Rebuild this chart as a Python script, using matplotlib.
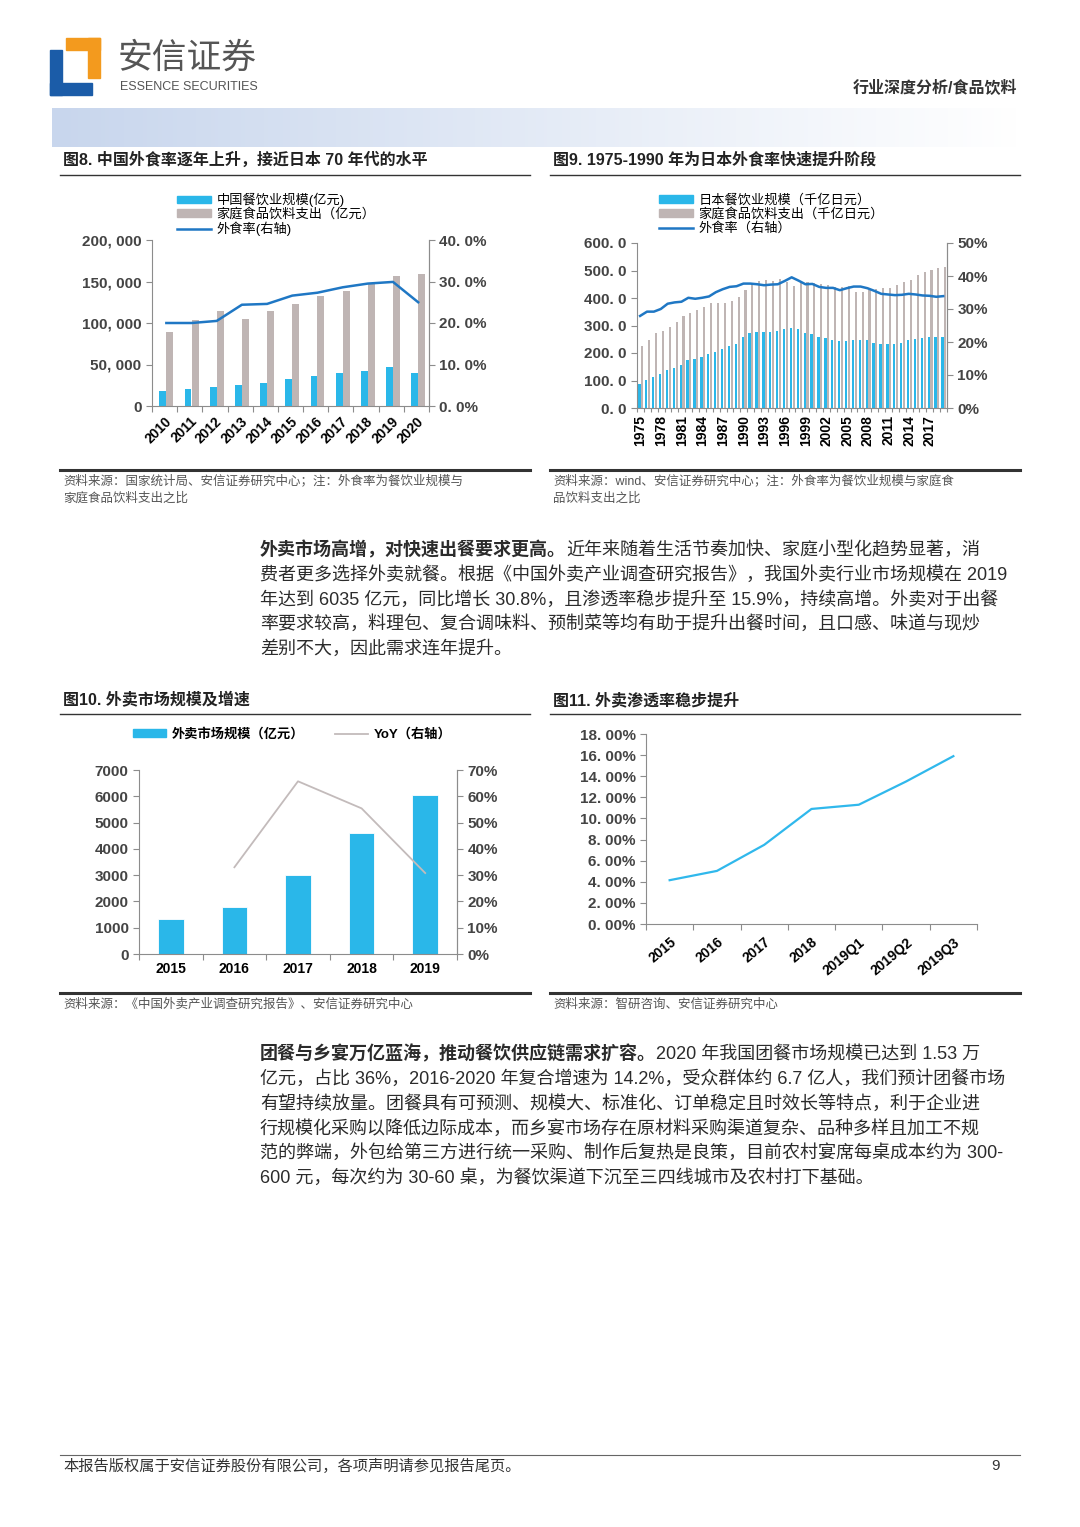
import numpy as np
import matplotlib
matplotlib.use('Agg')
import matplotlib.pyplot as plt
from matplotlib.ticker import FuncFormatter
from matplotlib.patches import Rectangle, Patch
from matplotlib.lines import Line2D

plt.rcParams['font.family'] = ['Liberation Sans', 'Noto Sans CJK SC']
plt.rcParams['axes.unicode_minus'] = False

# ---- data ----
# fig 8: China
cn_years = ['2010', '2011', '2012', '2013', '2014', '2015', '2016', '2017', '2018', '2019', '2020']
cn_dining = [17648, 20543, 23283, 25392, 27860, 32310, 35799, 39644, 42716, 46721, 39527]
cn_home = [89300, 103400, 114700, 104600, 114700, 122300, 132000, 138800, 147700, 157000, 159400]
cn_rate = [0.200, 0.200, 0.205, 0.244, 0.246, 0.266, 0.273, 0.286, 0.295, 0.299, 0.250]

# fig 9: Japan (千亿日元)
jp_years = [str(y) for y in range(1975, 2020)]
jp_dining = [89, 101, 113, 123, 137, 147, 158, 174, 178, 185,
             195, 204, 214, 227, 234, 257, 272, 277, 276, 277,
             281, 287, 290, 287, 273, 270, 260, 253, 247, 244,
             243, 246, 246, 246, 237, 234, 231, 234, 238, 246,
             252, 253, 257, 257, 260]
jp_home = [225, 248, 271, 281, 293, 313, 333, 346, 358, 368,
           381, 383, 383, 389, 403, 430, 450, 462, 465, 463,
           468, 458, 445, 461, 459, 456, 450, 447, 441, 440,
           443, 422, 422, 430, 432, 438, 438, 448, 458, 467,
           485, 495, 502, 508, 512]
jp_rate = [0.279, 0.292, 0.292, 0.300, 0.316, 0.320, 0.322, 0.334, 0.331, 0.334,
           0.338, 0.351, 0.360, 0.367, 0.369, 0.377, 0.377, 0.375, 0.372, 0.374,
           0.375, 0.385, 0.396, 0.386, 0.375, 0.376, 0.367, 0.364, 0.364, 0.357,
           0.363, 0.368, 0.368, 0.363, 0.355, 0.346, 0.344, 0.342, 0.343, 0.346,
           0.344, 0.341, 0.340, 0.337, 0.339]

# fig 10: takeaway market
wm_years = ['2015', '2016', '2017', '2018', '2019']
wm_size = [1330, 1770, 2990, 4600, 6035]
wm_yoy = [None, 0.330, 0.657, 0.554, 0.308]

# fig 11: penetration
pen_labels = ['2015', '2016', '2017', '2018', '2019Q1', '2019Q2', '2019Q3']
pen_rate = [0.0415, 0.0503, 0.075, 0.109, 0.113, 0.135, 0.159]

BLUE_BAR = '#2ab7e9'
GRAY_BAR = '#bfb5b4'
LINE_BLUE = '#1f77c4'
YOY_GRAY = '#c3bbbb'
AX_GRAY = '#8c8c8c'
TXT = '#333333'
TICK_TXT = '#444444'

W, H = 1080, 1527
fig = plt.figure(figsize=(W / 100, H / 100), dpi=100)


def box(l, t, r, b):
    return [l / W, 1 - b / H, (r - l) / W, (b - t) / H]


def fx(x):
    return x / W


def fy(y):
    return 1 - y / H


def hline(x0, x1, y, lw=1.0, color='#333333'):
    fig.add_artist(Line2D([fx(x0), fx(x1)], [fy(y), fy(y)], lw=lw, color=color,
                          transform=fig.transFigure))


def style_axes(ax, size=11):
    ax.spines['top'].set_visible(False)
    for s in ['left', 'bottom', 'right']:
        ax.spines[s].set_color(AX_GRAY)
    ax.tick_params(colors=AX_GRAY, labelcolor=TICK_TXT, labelsize=size, length=4, width=0.8)
    for lab in ax.get_xticklabels(which='both') + ax.get_yticklabels(which='both'):
        lab.set_fontweight('bold')


# ---- header ----
fig.add_artist(Rectangle((fx(50), fy(95)), 12 / W, 45 / H, transform=fig.transFigure, color='#1b5ca8'))
fig.add_artist(Rectangle((fx(50), fy(95)), 42 / W, 12 / H, transform=fig.transFigure, color='#1b5ca8'))
fig.add_artist(Rectangle((fx(66), fy(50)), 34 / W, 12 / H, transform=fig.transFigure, color='#f39a1e'))
fig.add_artist(Rectangle((fx(88), fy(78)), 12 / W, 40 / H, transform=fig.transFigure, color='#f39a1e'))
fig.text(fx(118), fy(58), '安信证券', fontsize=25, color='#555555', va='center', ha='left')
fig.text(fx(120), fy(87), 'ESSENCE SECURITIES', fontsize=9, color='#555555', va='center', ha='left')
fig.text(fx(1017), fy(88), '行业深度分析/食品饮料', fontsize=11.5, weight='bold', color=TXT,
         va='center', ha='right')

band = fig.add_axes(box(52, 108, 1020, 147))
grad = np.linspace(0, 1, 256)
c0 = np.array([200, 214, 237]) / 255
c1 = np.array([1.0, 1.0, 1.0])
img = c0[None, :] * (1 - grad[:, None]) + c1[None, :] * grad[:, None]
band.imshow(img[None, :, :], aspect='auto', extent=[0, 1, 0, 1])
band.axis('off')

# ---- titles / rules ----
fig.text(fx(63), fy(160), '图8. 中国外食率逐年上升，接近日本 70 年代的水平', fontsize=11.5, weight='bold',
         color='#222222', va='center')
fig.text(fx(553), fy(160), '图9. 1975-1990 年为日本外食率快速提升阶段', fontsize=11.5, weight='bold',
         color='#222222', va='center')
hline(60, 530, 175)
hline(550, 1020, 175)
hline(60, 530, 470, lw=2.2)
hline(550, 1020, 470, lw=2.2)
src_kw = dict(fontsize=9, color='#555555', va='center')
fig.text(fx(63), fy(481), '资料来源：国家统计局、安信证券研究中心；注：外食率为餐饮业规模与', **src_kw)
fig.text(fx(63), fy(499), '家庭食品饮料支出之比', **src_kw)
fig.text(fx(553), fy(481), '资料来源：wind、安信证券研究中心；注：外食率为餐饮业规模与家庭食', **src_kw)
fig.text(fx(553), fy(499), '品饮料支出之比', **src_kw)

fig.text(fx(63), fy(700), '图10. 外卖市场规模及增速', fontsize=11.5, weight='bold', color='#222222', va='center')
fig.text(fx(553), fy(700), '图11. 外卖渗透率稳步提升', fontsize=11.5, weight='bold', color='#222222', va='center')
hline(60, 530, 714)
hline(550, 1020, 714)
hline(60, 530, 993, lw=2.2)
hline(550, 1020, 993, lw=2.2)
fig.text(fx(63), fy(1005), '资料来源：《中国外卖产业调查研究报告》、安信证券研究中心', **src_kw)
fig.text(fx(553), fy(1005), '资料来源：智研咨询、安信证券研究中心', **src_kw)

# ---- fig 8 ----
ax = fig.add_axes(box(152, 240, 429, 406))
x = np.arange(len(cn_years))
ax.bar(x - 0.07, cn_dining, width=0.27, color=BLUE_BAR)
ax.bar(x + 0.21, cn_home, width=0.28, color=GRAY_BAR)
ax.set_xlim(-0.5, len(cn_years) - 0.5)
ax.set_ylim(0, 200000)
ax.set_yticks(range(0, 200001, 50000))
ax.set_yticklabels([f'{v:,.0f}'.replace(',', ', ') for v in range(0, 200001, 50000)])
ax.set_xticks(np.arange(-0.5, len(cn_years), 1))
ax.set_xticklabels([])
ax.set_xticks(x, minor=True)
ax.set_xticklabels(cn_years, minor=True, rotation=45, ha='right', rotation_mode='anchor')
style_axes(ax)
ax.tick_params(axis='x', which='minor', length=0, pad=6)
ax2 = ax.twinx()
ax2.plot(x + 0.07, cn_rate, color=LINE_BLUE, lw=1.8)
ax2.set_ylim(0, 0.4)
r_ticks = np.arange(0, 0.41, 0.1)
ax2.set_yticks(r_ticks)
ax2.set_yticklabels([f'{v * 100:.1f}%'.replace('.', '. ') for v in r_ticks])
style_axes(ax2)
for s in ['left', 'bottom']:
    ax2.spines[s].set_visible(False)
fig.legend([Patch(color=BLUE_BAR), Patch(color=GRAY_BAR), Line2D([], [], color=LINE_BLUE, lw=1.8)],
           ['中国餐饮业规模(亿元)', '家庭食品饮料支出（亿元）', '外食率(右轴)'],
           loc='upper left', bbox_to_anchor=(fx(177), fy(193)), frameon=False, fontsize=9.5,
           handlelength=2.6, handleheight=0.5, labelspacing=0.05, handletextpad=0.4,
           borderaxespad=0, borderpad=0)

# ---- fig 9 ----
ax = fig.add_axes(box(637, 243, 947, 408))
x = np.arange(len(jp_years))
ax.bar(x - 0.16, jp_dining, width=0.34, color=BLUE_BAR)
ax.bar(x + 0.25, jp_home, width=0.3, color=GRAY_BAR)
ax.set_xlim(-0.5, len(jp_years) - 0.5)
ax.set_ylim(0, 600)
ax.set_yticks(range(0, 601, 100))
ax.set_yticklabels([f'{v:.1f}'.replace('.', '. ') for v in range(0, 601, 100)])
ax.set_xticks(np.arange(-0.5, len(jp_years), 1))
ax.set_xticklabels([])
ax.set_xticks(x[::3], minor=True)
ax.set_xticklabels(jp_years[::3], minor=True, rotation=90, ha='center', va='top')
style_axes(ax)
ax.tick_params(axis='x', which='major', length=3)
ax.tick_params(axis='x', which='minor', length=0, pad=5)
ax2 = ax.twinx()
ax2.plot(x - 0.05, jp_rate, color=LINE_BLUE, lw=1.8)
ax2.set_ylim(0, 0.5)
r_ticks = np.arange(0, 0.51, 0.1)
ax2.set_yticks(r_ticks)
ax2.set_yticklabels([f'{v * 100:.0f}%' for v in r_ticks])
style_axes(ax2)
for s in ['left', 'bottom']:
    ax2.spines[s].set_visible(False)
fig.legend([Patch(color=BLUE_BAR), Patch(color=GRAY_BAR), Line2D([], [], color=LINE_BLUE, lw=1.8)],
           ['日本餐饮业规模（千亿日元）', '家庭食品饮料支出（千亿日元）', '外食率（右轴）'],
           loc='upper left', bbox_to_anchor=(fx(659), fy(194)), frameon=False, fontsize=9.5,
           handlelength=2.6, handleheight=0.5, labelspacing=0.1, handletextpad=0.4,
           borderaxespad=0, borderpad=0)

# ---- fig 10 ----
ax = fig.add_axes(box(139, 770, 457, 954))
x = np.arange(len(wm_years))
ax.bar(x, wm_size, width=0.4, color=BLUE_BAR, edgecolor='white', linewidth=0.6)
ax.set_xlim(-0.5, len(wm_years) - 0.5)
ax.set_ylim(0, 7000)
ax.set_yticks(range(0, 7001, 1000))
ax.set_xticks(np.arange(-0.5, len(wm_years), 1))
ax.set_xticklabels([])
ax.set_xticks(x, minor=True)
ax.set_xticklabels(wm_years, minor=True)
style_axes(ax)
ax.tick_params(axis='x', which='minor', length=0, pad=6)
ax2 = ax.twinx()
yx = [i for i, v in enumerate(wm_yoy) if v is not None]
ax2.plot(yx, [wm_yoy[i] for i in yx], color=YOY_GRAY, lw=1.3)
ax2.set_ylim(0, 0.7)
r_ticks = np.arange(0, 0.71, 0.1)
ax2.set_yticks(r_ticks)
ax2.set_yticklabels([f'{v * 100:.0f}%' for v in r_ticks])
style_axes(ax2)
for s in ['left', 'bottom']:
    ax2.spines[s].set_visible(False)
fig.legend([Patch(color=BLUE_BAR), Line2D([], [], color=YOY_GRAY, lw=1.3)],
           ['外卖市场规模（亿元）', 'YoY（右轴）'], ncol=2,
           loc='upper left', bbox_to_anchor=(fx(133), fy(728)), frameon=False,
           prop={'weight': 'bold', 'size': 9.5},
           handlelength=2.5, handleheight=0.5, handletextpad=0.4, columnspacing=2.4,
           borderaxespad=0, borderpad=0)

# ---- fig 11 ----
ax = fig.add_axes(box(646, 734, 977, 924))
x = np.arange(len(pen_labels))
ax.plot(x, pen_rate, color='#30b8ec', lw=1.6)
ax.set_xlim(-0.5, len(pen_labels) - 0.5)
ax.set_ylim(0, 0.18)
p_ticks = np.arange(0, 0.181, 0.02)
ax.set_yticks(p_ticks)
ax.set_yticklabels([f'{v * 100:.2f}%'.replace('.', '. ') for v in p_ticks])
ax.set_xticks(np.arange(-0.5, len(pen_labels), 1))
ax.set_xticklabels([])
ax.set_xticks(x, minor=True)
ax.set_xticklabels(pen_labels, minor=True, rotation=40, ha='right', rotation_mode='anchor')
style_axes(ax)
ax.spines['right'].set_visible(False)
ax.tick_params(axis='x', which='minor', length=0, pad=8)

# ---- body text ----
renderer = fig.canvas.get_renderer()
body_kw = dict(fontsize=13, color='#2b2b2b', va='center', ha='left')


def para(lines, y0, step):
    for i, (bold_part, rest) in enumerate(lines):
        y = fy(y0 + i * step)
        xpos = fx(260)
        if bold_part:
            t = fig.text(xpos, y, bold_part, weight='bold', **body_kw)
            xpos = t.get_window_extent(renderer=renderer).x1 / W
        fig.text(xpos, y, rest, **body_kw)


para([
    ('外卖市场高增，对快速出餐要求更高。', '近年来随着生活节奏加快、家庭小型化趋势显著，消'),
    ('', '费者更多选择外卖就餐。根据《中国外卖产业调查研究报告》，我国外卖行业市场规模在 2019'),
    ('', '年达到 6035 亿元，同比增长 30.8%，且渗透率稳步提升至 15.9%，持续高增。外卖对于出餐'),
    ('', '率要求较高，料理包、复合调味料、预制菜等均有助于提升出餐时间，且口感、味道与现炒'),
    ('', '差别不大，因此需求连年提升。'),
], 550, 24.75)

para([
    ('团餐与乡宴万亿蓝海，推动餐饮供应链需求扩容。', '2020 年我国团餐市场规模已达到 1.53 万'),
    ('', '亿元，占比 36%，2016-2020 年复合增速为 14.2%，受众群体约 6.7 亿人，我们预计团餐市场'),
    ('', '有望持续放量。团餐具有可预测、规模大、标准化、订单稳定且时效长等特点，利于企业进'),
    ('', '行规模化采购以降低边际成本，而乡宴市场存在原材料采购渠道复杂、品种多样且加工不规'),
    ('', '范的弊端，外包给第三方进行统一采购、制作后复热是良策，目前农村宴席每桌成本约为 300-'),
    ('', '600 元，每次约为 30-60 桌，为餐饮渠道下沉至三四线城市及农村打下基础。'),
], 1054, 24.8)

# ---- footer ----
hline(60, 1020, 1455, lw=0.8, color='#666666')
fig.text(fx(63), fy(1466), '本报告版权属于安信证券股份有限公司，各项声明请参见报告尾页。', fontsize=11,
         color=TXT, va='center')
fig.text(fx(1000), fy(1466), '9', fontsize=11, color=TXT, va='center', ha='right')

fig.savefig('out.png', dpi=100)
